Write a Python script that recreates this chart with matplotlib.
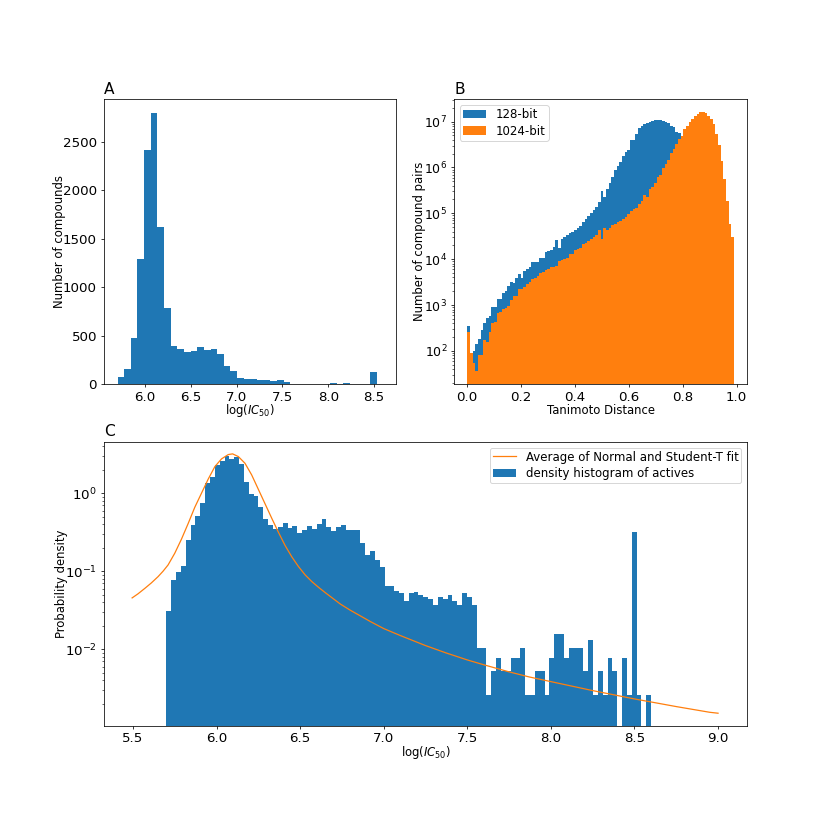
import numpy as np
import matplotlib
matplotlib.use("Agg")
import matplotlib.pyplot as plt

S = 8.3 / 12
plt.rcParams.update({
    'font.size': 14 * S, 'axes.linewidth': 0.8 * S,
    'axes.labelsize': 8.4, 'legend.fontsize': 8.5,
    'legend.labelspacing': 0.3, 'legend.borderpad': 0.25,
    'xtick.major.size': 3.5 * S, 'ytick.major.size': 3.5 * S,
    'xtick.minor.size': 2 * S, 'ytick.minor.size': 2 * S,
    'xtick.major.width': 0.8 * S, 'ytick.major.width': 0.8 * S,
    'xtick.minor.width': 0.6 * S, 'ytick.minor.width': 0.6 * S,
    'xtick.major.pad': 3.5 * S, 'ytick.major.pad': 3.5 * S,
    'patch.linewidth': 0.7,
})

# Panel A: counts per bin
a_counts = [69, 151, 475, 1287, 2415, 2800, 1624, 781, 392, 365, 334, 340, 378, 354, 365, 313,
            186, 131, 58, 48, 50, 41, 41, 34, 45, 20, 5, 5, 5, 4, 3, 3, 15, 5, 8, 5, 2, 3, 120, 3]
a_range = (5.7, 8.6)

# Panel B: log10 of the pair counts per bin
b_128 = [2.545, np.nan, 2.0, 2.15, 2.25, 2.46, 2.6, 2.71, 2.77, 2.95, 2.95, 3.13, 3.14, 3.26, 3.31,
         3.42, 3.5, 3.49, 3.6, 3.68, 3.6, 3.74, 3.78, 3.82, 3.93, 3.93, 3.93, 4.02, 4.03, 4.15,
         4.18, 4.21, 4.27, 4.41, 4.24, 4.45, 4.49, 4.53, 4.56, 4.59, 4.64, 4.69, 4.72, 4.8, 4.87,
         4.95, 5.0, 5.07, 5.13, 5.25, 5.48, 5.36, 5.54, 5.67, 5.8, 5.94, 6.03, 6.12, 6.25, 6.34,
         6.38, 6.6, 6.6, 6.72, 6.85, 6.9, 6.94, 6.97, 6.98, 7.01, 7.03, 7.03, 7.03, 7.01, 7.0,
         6.97, 6.9, 6.87, 6.78, 6.74, 6.62, 6.5, 6.35, 6.2, 6.0, 5.8, 5.6, 5.3, 5.0, 4.6,
         4.2, 3.8, 3.3, 3.0, 2.7, 2.4, 2.2, 2.0, 1.8, 1.6]
b_1024 = [2.42, 1.95, 1.73, 1.56, 1.91, 1.91, 2.24, 2.2, 2.42, 2.6, 2.64, 2.82, 2.84, 2.91, 2.94,
          2.99, 3.1, 3.2, 3.2, 3.34, 3.34, 3.39, 3.46, 3.51, 3.56, 3.58, 3.63, 3.69, 3.73, 3.76,
          3.79, 3.82, 3.84, 3.86, 3.95, 3.98, 4.0, 4.02, 4.11, 4.12, 4.2, 4.23, 4.24, 4.32, 4.35,
          4.4, 4.45, 4.49, 4.52, 4.64, 4.43, 4.69, 4.64, 4.69, 4.75, 4.77, 4.8, 4.83, 4.88, 4.93,
          4.98, 5.05, 5.09, 5.12, 5.2, 5.27, 5.4, 5.35, 5.53, 5.58, 5.67, 5.8, 5.83, 5.98, 6.07,
          6.16, 6.32, 6.4, 6.5, 6.62, 6.69, 6.84, 6.91, 6.98, 7.05, 7.12, 7.16, 7.2, 7.21, 7.19,
          7.12, 7.05, 6.94, 6.72, 6.49, 6.14, 5.75, 5.27, 4.77, 4.49]
b_range = (0.0, 0.99)

# Panel C: log10 of the density per bin
c_hist = [-1.504, -1.111, -1.004, -0.932, -0.598, -0.41, -0.286, -0.128, 0.137, 0.205, 0.363, 0.415,
          0.479, 0.444, 0.47, 0.368, 0.145, -0.013, -0.034, -0.175, -0.329, -0.41, -0.462, -0.436,
          -0.385, -0.449, -0.423, -0.513, -0.474, -0.423, -0.462, -0.393, -0.333, -0.432, -0.479,
          -0.436, -0.411, -0.475, -0.47, -0.47, -0.633, -0.791, -0.74, -0.855, -0.949, -1.184,
          -1.184, -1.257, -1.283, -1.377, -1.283, -1.261, -1.304, -1.33, -1.355, -1.437, -1.334,
          -1.351, -1.308, -1.381, -1.437, -1.283, -1.334, -1.437, -1.983, -1.983, -2.586, -2.283,
          -2.107, -2.283, -2.283, -2.107, -2.107, -1.983, -2.586, -2.586, -2.283, -2.283, -2.586,
          -2.107, -1.808, -1.808, -2.107, -1.983, -1.983, -1.983, -2.283, -1.887, -2.586, -2.283,
          -2.586, -2.107, -2.283, np.nan, -2.107, -2.586, -0.5, -2.586, np.nan, -2.586]
c_range = (5.7, 8.6)
fit_x = [5.495, 5.53, 5.571, 5.61, 5.65, 5.68, 5.71, 5.75, 5.79, 5.83, 5.87, 5.91, 5.95, 5.99,
         6.03, 6.07, 6.096, 6.13, 6.17, 6.21, 6.25, 6.29, 6.33, 6.37, 6.41, 6.45, 6.49, 6.53,
         6.57, 6.61, 6.65, 6.70, 6.74, 6.8, 6.85, 6.92, 7.0, 7.1, 7.25, 7.37, 7.5, 7.6, 7.75,
         7.87, 8.0, 8.25, 8.5, 8.75, 8.95, 9.0]
fit_log = [-1.342, -1.29, -1.22, -1.15, -1.07, -1.0, -0.92, -0.77, -0.59, -0.39, -0.18, 0.0, 0.18,
           0.341, 0.44, 0.495, 0.504, 0.47, 0.384, 0.235, 0.05, -0.135, -0.32, -0.5, -0.67, -0.815,
           -0.94, -1.047, -1.133, -1.206, -1.274, -1.355, -1.42, -1.5, -1.56, -1.645, -1.735,
           -1.825, -1.953, -2.045, -2.137, -2.2, -2.29, -2.355, -2.415, -2.53, -2.637, -2.735,
           -2.808, -2.82]

W = 830.0
def place(l, t, r, b):
    return fig.add_axes([l / W, 1 - b / W, (r - l) / W, (b - t) / W])

def bars(ax, vals, rng, **kw):
    edges = np.linspace(rng[0], rng[1], len(vals) + 1)
    return ax.bar(edges[:-1], vals, width=np.diff(edges), align='edge', **kw)

fig = plt.figure(figsize=(8.3, 8.3), dpi=100)

axA = place(103.7, 99.3, 396, 384)
bars(axA, a_counts, a_range, color='C0')
axA.set_xlim(5.549, 8.74)
axA.set_ylim(0, 2941)
axA.set_xticks([6.0, 6.5, 7.0, 7.5, 8.0, 8.5])
axA.set_yticks([0, 500, 1000, 1500, 2000, 2500])
axA.set_xlabel(r'log($IC_{50}$)', labelpad=-1)
axA.set_ylabel('Number of compounds', labelpad=-2)
axA.set_title('A', loc='left', fontsize=16 * S, pad=4)

axB = place(454, 99.3, 747.3, 384)
axB.set_yscale('log')
bars(axB, np.power(10.0, b_128), b_range, color='C0', label='128-bit')
bars(axB, np.power(10.0, b_1024), b_range, color='C1', label='1024-bit')
axB.set_xlim(-0.049, 1.04)
axB.set_ylim(10 ** 1.28, 10 ** 7.484)
axB.set_xticks([0.0, 0.2, 0.4, 0.6, 0.8, 1.0])
axB.tick_params(axis='y', labelsize=9)
axB.set_xlabel('Tanimoto Distance', labelpad=0)
axB.set_ylabel('Number of compound pairs', labelpad=-1)
axB.set_title('B', loc='left', fontsize=16 * S, pad=4)
axB.legend(loc='upper left')

axC = place(103.7, 441.7, 747.3, 725.7)
axC.set_yscale('log')
bars(axC, np.power(10.0, c_hist), c_range, color='C0', label='density histogram of actives')
axC.plot(fit_x, np.power(10.0, fit_log), color='C1', lw=0.9, label='Average of Normal and Student-T fit')
axC.set_xlim(5.325, 9.175)
axC.set_ylim(10 ** -2.98, 10 ** 0.66)
axC.set_xticks([5.5, 6.0, 6.5, 7.0, 7.5, 8.0, 8.5, 9.0])
axC.set_xlabel(r'log($IC_{50}$)', labelpad=-1)
axC.set_ylabel('Probability density', labelpad=-2)
axC.set_title('C', loc='left', fontsize=16 * S, pad=4)
axC.legend(loc='upper right')

fig.savefig('out.png', dpi=100)
